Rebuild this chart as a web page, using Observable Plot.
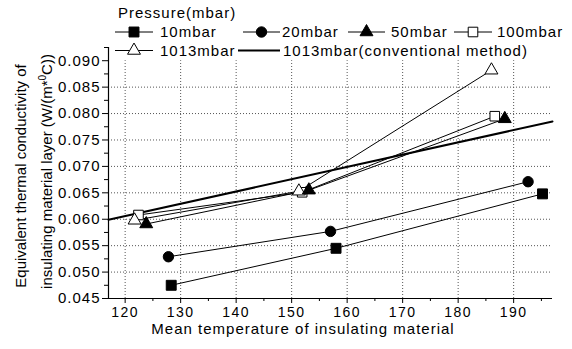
<!DOCTYPE html>
<html>
<head>
<meta charset="utf-8">
<script src="https://cdn.jsdelivr.net/npm/d3@7"></script>
<script src="https://cdn.jsdelivr.net/npm/@observablehq/plot@0.6"></script>
<style>
  html, body { margin: 0; padding: 0; background: white; }
  #wrap { position: relative; width: 572px; height: 349px; font-family: "Liberation Sans", Arial, sans-serif; }
  #overlay { position: absolute; left: 0; top: 0; pointer-events: none; }
  .xt text { font-size: 14px; letter-spacing: 1.5px; }
</style>
</head>
<body>
<div id="wrap"></div>
<script>
// ---- data ----
const seriesNames = ["10mbar", "20mbar", "50mbar", "100mbar", "1013mbar"];
const x10 = [128.3, 158.0, 195.2];
const y10 = [0.0475, 0.0545, 0.0648];
const x20 = [127.8, 157.0, 192.6];
const y20 = [0.0529, 0.0577, 0.0671];
const x50 = [123.8, 153.1, 188.4];
const y50 = [0.0591, 0.0655, 0.0790];
const x100 = [122.4, 151.9, 186.6];
const y100 = [0.0608, 0.0651, 0.0795];
const x1013 = [121.7, 151.3, 186.0];
const y1013 = [0.0598, 0.0653, 0.0882];
const convName = "1013mbar(conventional method)";
const xConv = [117, 197];
const yConv = [0.0599, 0.0785];

const xMajor = [120, 130, 140, 150, 160, 170, 180, 190];
const xMinor = [125, 135, 145, 155, 165, 175, 185, 195];
const yMajor = [0.045, 0.050, 0.055, 0.060, 0.065, 0.070, 0.075, 0.080, 0.085, 0.090];
const yMinor = [0.0475, 0.0525, 0.0575, 0.0625, 0.0675, 0.0725, 0.0775, 0.0825, 0.0875, 0.0925];
const xGrid = xMajor;
const yGrid = [0.050, 0.055, 0.060, 0.065, 0.070, 0.075, 0.080, 0.085];

const legendTitle = "Pressure(mbar)";
const xLabel = "Mean temperature of insulating material";
const yLabel1 = "Equivalent thermal conductivity of";
const yLabel2a = "insulating material layer (W/(m*";
const yLabel2b = "0";
const yLabel2c = "C))";

// ---- build table ----
const xs = [x10, x20, x50, x100, x1013];
const ys = [y10, y20, y50, y100, y1013];
const rows = [];
seriesNames.forEach((s, i) => xs[i].forEach((x, j) => rows.push({series: s, x, y: ys[i][j]})));
const conv = xConv.map((x, j) => ({x, y: yConv[j]}));

const style = {
  "10mbar":   {symbol: "square",   r: 5.6, fill: "black"},
  "20mbar":   {symbol: "circle",   r: 5.2, fill: "black"},
  "50mbar":   {symbol: "triangle", r: 4.8, fill: "black"},
  "100mbar":  {symbol: "square",   r: 5.4, fill: "white"},
  "1013mbar": {symbol: "triangle", r: 4.8, fill: "white"}
};
const drawOrder = ["100mbar", "1013mbar", "50mbar", "20mbar", "10mbar"];

const grid = {stroke: "#555", strokeWidth: 1, strokeDasharray: "1,2"};

const plot = Plot.plot({
  width: 572,
  height: 349,
  marginLeft: 108,
  marginRight: 20,
  marginTop: 47,
  marginBottom: 51,
  x: {domain: [117, 197]},
  y: {domain: [0.045, 0.0925]},
  style: {fontFamily: "'Liberation Sans', Arial, sans-serif", fontSize: "15px", letterSpacing: "1px", color: "black", background: "white", overflow: "visible"},
  marks: [
    Plot.ruleX(xGrid, {x: d => d, y1: 0.045, y2: 0.090, ...grid}),
    Plot.ruleY(yGrid, {y: d => d, x1: 117, x2: 197, ...grid}),
    Plot.axisX(xMinor, {tickSize: 3, tickFormat: () => "", label: null}),
    Plot.axisX(xMajor, {tickSize: 5, tickPadding: 4, tickFormat: d => String(d), label: null, fontSize: 14, className: "xt"}),
    Plot.axisY(yMinor, {tickSize: 4, tickFormat: () => "", label: null}),
    Plot.axisY(yMajor, {tickSize: 6, tickPadding: 2, tickFormat: d3.format(".3f"), label: null, fontSize: 15}),
    Plot.ruleX([117], {stroke: "black", strokeWidth: 1.2}),
    Plot.ruleY([0.045], {stroke: "black", strokeWidth: 1.2}),
    Plot.line(conv, {x: "x", y: "y", stroke: "black", strokeWidth: 2}),
    Plot.line(rows, {x: "x", y: "y", z: "series", stroke: "black", strokeWidth: 1}),
    ...drawOrder.map(s => Plot.dot(rows.filter(d => d.series === s), {
      x: "x", y: "y", symbol: () => style[s].symbol, r: style[s].r,
      fill: style[s].fill, stroke: "black", strokeWidth: 1
    }))
  ]
});
document.getElementById("wrap").appendChild(plot);

// ---- overlay: legend and axis titles ----
const svg = d3.select("#wrap").append("svg")
  .attr("id", "overlay")
  .attr("width", 572).attr("height", 349)
  .style("font-family", "'Liberation Sans', Arial, sans-serif")
  .style("font-size", "15px")
  .style("letter-spacing", "1px");

const symMap = {square: d3.symbolSquare, circle: d3.symbolCircle, triangle: d3.symbolTriangle};
function sym(g, x, y, s) {
  const st = style[s];
  g.append("path")
    .attr("d", d3.symbol(symMap[st.symbol], Math.PI * st.r * st.r)())
    .attr("transform", `translate(${x},${y})`)
    .attr("fill", st.fill).attr("stroke", "black").attr("stroke-width", 1);
}

svg.append("text").attr("x", 118).attr("y", 17.5).text(legendTitle);

const legendItems = [
  {s: "10mbar",   x0: 115, x1: 153, tx: 160, y: 32},
  {s: "20mbar",   x0: 243, x1: 280, tx: 282, y: 32},
  {s: "50mbar",   x0: 348, x1: 385, tx: 391, y: 32},
  {s: "100mbar",  x0: 454, x1: 492, tx: 497, y: 32},
  {s: "1013mbar", x0: 115, x1: 153, tx: 160, y: 50.5}
];
legendItems.forEach(it => {
  svg.append("line").attr("x1", it.x0).attr("x2", it.x1).attr("y1", it.y).attr("y2", it.y)
    .attr("stroke", "black").attr("stroke-width", 1);
  sym(svg, (it.x0 + it.x1) / 2, it.y, it.s);
  svg.append("text").attr("x", it.tx).attr("y", it.y + 5.3).text(it.s);
});
svg.append("line").attr("x1", 238).attr("x2", 280).attr("y1", 50.5).attr("y2", 50.5)
  .attr("stroke", "black").attr("stroke-width", 2);
svg.append("text").attr("x", 283).attr("y", 55.8).text(convName);

svg.append("text").attr("x", 303).attr("y", 333.5).attr("text-anchor", "middle").text(xLabel);

svg.append("text")
  .attr("transform", "translate(26.3,176) rotate(-90)")
  .attr("text-anchor", "middle").style("letter-spacing", "0px").text(yLabel1);
const t2 = svg.append("text")
  .attr("transform", "translate(52,171.5) rotate(-90)")
  .attr("text-anchor", "middle").style("letter-spacing", "0px");
t2.append("tspan").text(yLabel2a);
t2.append("tspan").attr("dy", -6).attr("font-size", 10).text(yLabel2b);
t2.append("tspan").attr("dy", 6).text(yLabel2c);
</script>
</body>
</html>
